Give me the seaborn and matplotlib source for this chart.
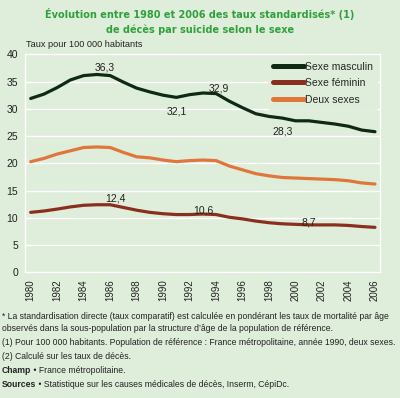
import matplotlib
matplotlib.use("Agg")
import matplotlib.pyplot as plt
import seaborn as sns
import pandas as pd
from matplotlib import font_manager
from matplotlib.lines import Line2D

years = list(range(1980, 2007))
hommes = [31.9, 32.7, 33.9, 35.3, 36.1, 36.3, 36.1, 34.9, 33.8, 33.1, 32.5, 32.1, 32.6, 32.9, 32.8,
          31.4, 30.2, 29.1, 28.6, 28.3, 27.8, 27.8, 27.5, 27.2, 26.8, 26.1, 25.8]
femmes = [11.0, 11.25, 11.6, 12.0, 12.3, 12.4, 12.4, 11.9, 11.4, 11.0, 10.75, 10.6, 10.6, 10.7, 10.6,
          10.1, 9.8, 9.4, 9.1, 8.9, 8.8, 8.7, 8.7, 8.7, 8.6, 8.4, 8.25]
deux = [20.3, 20.9, 21.7, 22.3, 22.9, 23.0, 22.9, 22.0, 21.2, 21.0, 20.6, 20.3, 20.5, 20.6, 20.5,
        19.5, 18.8, 18.1, 17.7, 17.4, 17.3, 17.2, 17.1, 17.0, 16.8, 16.4, 16.2]
series_names = ["Sexe masculin", "Sexe féminin", "Deux sexes"]
colors = ["#0e2a14", "#8a2f1d", "#e0773a"]
yticks = [0, 5, 10, 15, 20, 25, 30, 35, 40]
xticks = list(range(1980, 2007, 2))
annots = [(1985.6, 36.3, "36,3", 37.5), (1991, 32.1, "32,1", 29.5), (1994.2, 32.9, "32,9", 33.7),
          (1999, 28.3, "28,3", 25.8), (1986.4, 12.4, "12,4", 13.6), (1993, 10.6, "10,6", 11.3),
          (2001, 8.7, "8,7", 9.2)]

title = "Évolution entre 1980 et 2006 des taux standardisés* (1)\nde décès par suicide selon le sexe"
ylab = "Taux pour 100 000 habitants"
notes = [
    [("", "* La standardisation directe (taux comparatif) est calculée en pondérant les taux de mortalité par âge")],
    [("", "observés dans la sous-population par la structure d’âge de la population de référence.")],
    [("", "(1) Pour 100 000 habitants. Population de référence : France métropolitaine, année 1990, deux sexes.")],
    [("", "(2) Calculé sur les taux de décès.")],
    [("Champ", " • France métropolitaine.")],
    [("Sources", " • Statistique sur les causes médicales de décès, Inserm, CépiDc.")],
]

df = pd.DataFrame({
    "year": years * 3,
    "val": hommes + femmes + deux,
    "serie": [series_names[0]] * len(years) + [series_names[1]] * len(years) + [series_names[2]] * len(years),
})

names = {f.name for f in font_manager.fontManager.ttflist}
narrow = "Liberation Sans Narrow" if "Liberation Sans Narrow" in names else "Liberation Sans"

bg = "#dfeddb"
sns.set_theme(style="white")
plt.rcParams["font.family"] = [narrow, "DejaVu Sans"]

fig = plt.figure(figsize=(4.0, 3.98), dpi=100, facecolor=bg)
ax = fig.add_axes([0.0625, 0.3158, 0.8875, 0.5477], facecolor=bg)

sns.lineplot(data=df, x="year", y="val", hue="serie", hue_order=series_names,
             palette=colors, linewidth=2.3, ax=ax, legend=False)

ax.set_xlim(1979.57, 2006.38)
ax.set_ylim(0, 40)
ax.set_yticks(yticks)
ax.set_yticklabels([str(v) for v in yticks], fontsize=7.5, color="#222222")
ax.set_xticks(xticks)
ax.set_xticklabels([str(v) for v in xticks], rotation=90, fontsize=7.0, color="#222222")
ax.set_xticks(years, minor=True)
ax.tick_params(axis="x", which="both", direction="out", length=3, color="white", width=1, pad=2)
ax.tick_params(axis="y", direction="out", length=3, color="white", width=1, pad=2)
ax.set_xlabel("")
ax.set_ylabel("")
for y in yticks[1:-1]:
    ax.axhline(y, color="white", lw=1.0, zorder=0)
for s in ax.spines.values():
    s.set_color("white")
    s.set_linewidth(1.0)

for x, y, t, ty in annots:
    ax.text(x, ty, t, ha="center", va="center", fontsize=7.5, color="#222222")

handles = [Line2D([0], [0], color=c, lw=3.6) for c in colors]
leg = ax.legend(handles, series_names, loc="upper right", bbox_to_anchor=(1.0, 1.0),
                frameon=True, fontsize=7.5, handlelength=3.0, handletextpad=0.1,
                labelspacing=0.62, borderaxespad=0.3)
leg.get_frame().set_facecolor(bg)
leg.get_frame().set_edgecolor(bg)
leg.get_frame().set_alpha(1)

fig.text(0.5, 0.946, title, ha="center", va="center", fontsize=7.0, fontweight="bold",
         color="#30a03c", family="DejaVu Sans", linespacing=1.55)
fig.text(0.065, 0.888, ylab, ha="left", va="center", fontsize=6.6, color="#222222")

y0 = 0.206
steps = [0.0, 0.031, 0.066, 0.101, 0.137, 0.172]
fs = 6.2
for line, dy in zip(notes, steps):
    x = 0.005
    for bold, rest in line:
        if bold:
            t = fig.text(x, y0 - dy, bold, ha="left", va="center", fontsize=fs,
                         fontweight="bold", color="#222222")
            fig.canvas.draw()
            bb = t.get_window_extent()
            x = bb.x1 / fig.bbox.width
        fig.text(x, y0 - dy, rest, ha="left", va="center", fontsize=fs, color="#222222")

fig.savefig("out.png", dpi=100, facecolor=bg)
